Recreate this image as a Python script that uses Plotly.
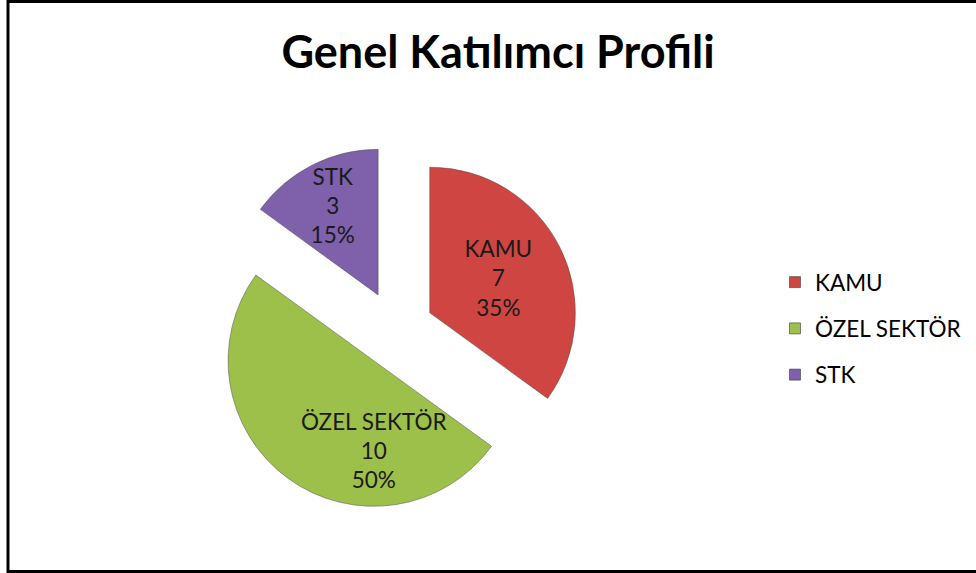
import plotly.graph_objects as go

categories = ["KAMU", "ÖZEL SEKTÖR", "STK"]
values = [7, 10, 3]
colors = ["#CF4542", "#9CC04A", "#7E60AB"]

W, H = 976, 573
FONT = "Lato, Open Sans, sans-serif"
fig = go.Figure()

fig.add_trace(go.Pie(
    labels=categories,
    values=values,
    sort=False,
    direction="clockwise",
    rotation=0,
    pull=[0.26, 0.26, 0.27],
    marker=dict(colors=colors, line=dict(color="rgba(80,80,80,0.5)", width=1)),
    texttemplate="%{label}<br>%{value}<br>%{percent:.0%}",
    textposition="inside",
    insidetextorientation="horizontal",
    textfont=dict(family=FONT, size=22.5, color="#1a1a1a"),
    showlegend=False,
    hoverinfo="label+value+percent",
    domain=dict(x=[211 / W, 581 / W], y=[1 - 515 / H, 1 - 145 / H]),
))

# legend entries via empty scatter traces
for cat, col in zip(categories, colors):
    fig.add_trace(go.Scatter(
        x=[None], y=[None], mode="markers", name=cat,
        marker=dict(symbol="square", size=11, color=col,
                    line=dict(color="rgba(60,60,60,0.6)", width=1)),
        legendgroup=cat, showlegend=True,
    ))

fig.update_layout(
    width=W, height=H,
    margin=dict(l=0, r=0, t=0, b=0),
    paper_bgcolor="white", plot_bgcolor="white",
    uniformtext=dict(minsize=22.5, mode="show"),
    title=dict(
        text="<b>Genel Katılımcı Profili</b>",
        x=498 / W, xanchor="center",
        y=1 - 52 / H, yanchor="middle",
        font=dict(family=FONT, size=45, color="black"),
    ),
    legend=dict(
        x=775 / W, xanchor="left",
        y=1 - 261 / H, yanchor="top",
        font=dict(family=FONT, size=22.5, color="black"),
        tracegroupgap=14,
        bgcolor="rgba(0,0,0,0)",
    ),
    xaxis=dict(visible=False),
    yaxis=dict(visible=False),
    shapes=[dict(
        type="rect", xref="paper", yref="paper",
        x0=8 / W, x1=1.02, y0=1 - 571.5 / H, y1=1 - 1.5 / H,
        line=dict(color="black", width=3), fillcolor="rgba(0,0,0,0)",
    )],
)

fig.write_html("out.html", config={"displayModeBar": False},
               post_script="document.body.style.margin='0';document.body.style.overflow='hidden';")
